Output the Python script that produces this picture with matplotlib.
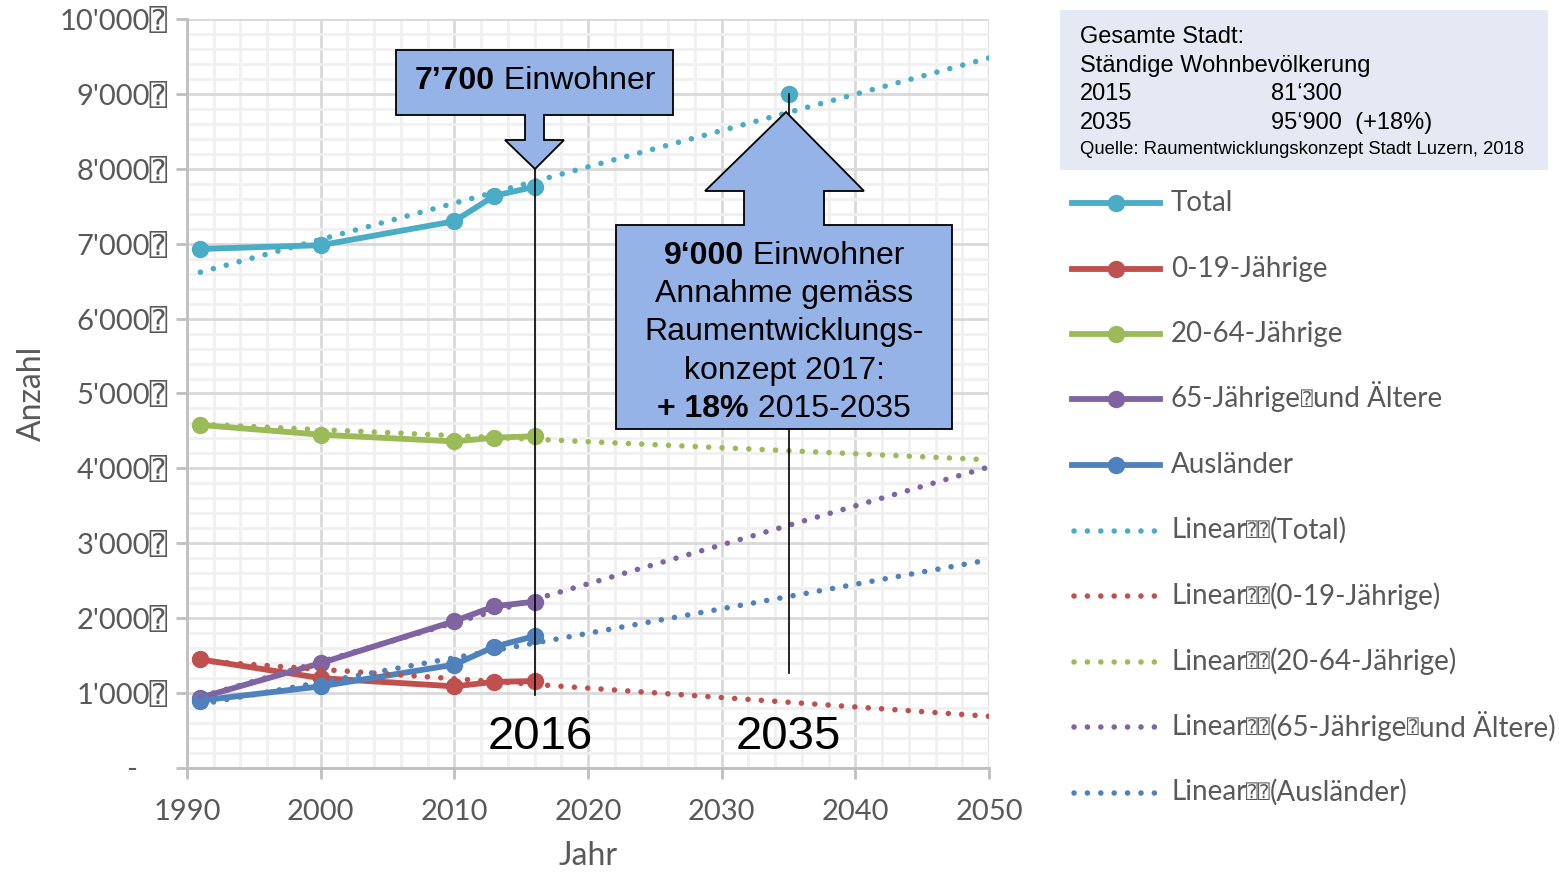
import matplotlib
matplotlib.use("Agg")
import matplotlib.pyplot as plt
from matplotlib.lines import Line2D
from matplotlib.patches import Polygon, Rectangle
from matplotlib.ticker import MultipleLocator, FixedLocator

years = [1991, 2000, 2010, 2013, 2016]
total = [6930, 6980, 7300, 7640, 7760]
age_0_19 = [1450, 1200, 1090, 1150, 1160]
age_20_64 = [4580, 4450, 4360, 4410, 4430]
age_65 = [940, 1400, 1960, 2160, 2220]
auslaender = [900, 1090, 1380, 1620, 1760]

# linear trend lines (start/end as drawn)
trend_years = [1991, 2050]
trend_total = [6620, 9480]
trend_0_19 = [1430, 690]
trend_20_64 = [4590, 4115]
trend_65 = [950, 4020]
trend_ausl = [850, 2780]

target_year = 2035
target_value = 9000
vline_2016 = [980, 7985]
vline_2035 = [1270, 9000]

BOX = '\u2370'
series_names = ['Total', '0-19-Jährige', '20-64-Jährige', '65-Jährige' + BOX + 'und Ältere', 'Ausländer']
colors = ['#4bacc6', '#c0504d', '#9bbb59', '#8064a2', '#4f81bd']
values = [total, age_0_19, age_20_64, age_65, auslaender]
trends = [trend_total, trend_0_19, trend_20_64, trend_65, trend_ausl]

xticks = [1990, 2000, 2010, 2020, 2030, 2040, 2050]
yticks = list(range(0, 10001, 1000))
ytick_labels = ['-    '] + [f"{v:,}".replace(',', "'") + BOX for v in yticks[1:]]

W, H = 1559, 873
FONT = ['Lato', 'DejaVu Sans', 'DejaVu Sans Mono']
ARIAL = ['Liberation Sans', 'DejaVu Sans']
GREY = '#595959'
DOTS = (0, (0.01, 2.4))


def fx(x):
    return x / W


def fy(y):
    return 1 - y / H


fig = plt.figure(figsize=(W / 100, H / 100), dpi=100)
ax = fig.add_axes([fx(187), fy(768), (989 - 187) / W, (768 - 19) / H])
ax.set_xlim(1990, 2050)
ax.set_ylim(0, 10000)

# grid
ax.xaxis.set_major_locator(FixedLocator(xticks))
ax.xaxis.set_minor_locator(MultipleLocator(2))
ax.yaxis.set_major_locator(FixedLocator(yticks))
ax.yaxis.set_minor_locator(MultipleLocator(200))
ax.grid(which='minor', color='#f0f0f0', linewidth=2.0, zorder=0)
ax.grid(which='major', color='#d9d9d9', linewidth=2.0, zorder=0)
ax.set_axisbelow(True)
for s in ['top', 'right']:
    ax.spines[s].set_visible(False)
for s in ['left', 'bottom']:
    ax.spines[s].set_color('#bfbfbf')
    ax.spines[s].set_linewidth(2.0)
ax.tick_params(which='minor', length=0)
ax.tick_params(which='major', length=8, width=2.0, color='#bfbfbf', labelcolor=GREY, labelsize=21)
ax.tick_params(axis='x', pad=14)
ax.tick_params(axis='y', pad=6)
ax.set_yticklabels(ytick_labels, fontfamily=FONT)
ax.set_xticklabels([str(x) for x in xticks], fontfamily=FONT)
ax.set_xlabel('Jahr', fontsize=23, color=GREY, family=FONT, labelpad=12)
ax.set_ylabel('Anzahl', fontsize=23, color=GREY, family=FONT, labelpad=9)

# data series
for vals, c in zip(values, colors):
    ax.plot(years, vals, color=c, lw=4.2, marker='o', ms=11.5, solid_joinstyle='round', zorder=3)
for tr, c in zip(trends, colors):
    ax.plot(trend_years, tr, color=c, lw=4.0, linestyle=DOTS,
            dash_capstyle='round', zorder=4)
ax.plot(target_year, target_value, 'o', color=colors[0], ms=11.5, zorder=5)

# reference lines
ax.plot([2016, 2016], vline_2016, color='black', lw=1.2, zorder=6)
ax.plot([2035, 2035], vline_2035, color='black', lw=1.2, zorder=6)
ax.text(2016.4, 420, '2016', fontsize=34, family=ARIAL, ha='center', va='center', zorder=7)
ax.text(2035, 420, '2035', fontsize=34, family=ARIAL, ha='center', va='center', zorder=7)

# callout shapes (pixel coordinates)
FILL = '#95b3e7'
callout1 = [(396, 50), (673, 50), (673, 115), (544, 115), (544, 140), (564, 140), (535, 169),
            (505, 140), (525, 140), (525, 115), (396, 115)]
callout2 = [(616, 225), (744, 225), (744, 191), (705, 191), (786, 112), (864, 191), (824, 191),
            (824, 225), (952, 225), (952, 429), (616, 429)]
for pts in [callout1, callout2]:
    fig.add_artist(Polygon([(fx(x), fy(y)) for x, y in pts], closed=True, facecolor=FILL,
                           edgecolor='black', lw=1.3, transform=fig.transFigure, zorder=10))

renderer = fig.canvas.get_renderer()


def pieces(x0, yc, parts, align='center', **kw):
    # parts: list of (text, weight, size); laid out side by side
    arts = []
    for txt, wt, size in parts:
        t = fig.text(0, fy(yc), txt, fontsize=size, weight=wt, va='center', ha='left', **kw)
        arts.append(t)
    widths = [a.get_window_extent(renderer).width for a in arts]
    x = x0 - sum(widths) / 2 if align == 'center' else x0
    for a, w in zip(arts, widths):
        a.set_x(fx(x))
        x += w


def callout_text(xc, yc, parts):
    pieces(xc, yc, [(t, w, 23) for t, w in parts], family=ARIAL, zorder=11)


callout_text(535, 81, [('7\u2019700', 'bold'), (' Einwohner', 'normal')])
callout_text(784, 256, [('9\u2018000', 'bold'), (' Einwohner', 'normal')])
callout_text(784, 294, [('Annahme gemäss', 'normal')])
callout_text(784, 332, [('Raumentwicklungs-', 'normal')])
callout_text(784, 371, [('konzept 2017:', 'normal')])
callout_text(784, 409, [('+ 18%', 'bold'), (' 2015-2035', 'normal')])

# info box
fig.add_artist(Rectangle((fx(1060), fy(170)), (1548 - 1060) / W, 160 / H, facecolor='#e4e9f4',
                         edgecolor='none', transform=fig.transFigure, zorder=1))
info = [('Gesamte Stadt:', '', 37), ('Ständige Wohnbevölkerung', '', 66),
        ('2015', '81\u2018300', 94), ('2035', '95\u2018900  (+18%)', 123)]
for left, right, y in info:
    fig.text(fx(1080), fy(y), left, fontsize=17, family=ARIAL, va='center', zorder=2)
    if right:
        fig.text(fx(1271), fy(y), right, fontsize=17, family=ARIAL, va='center', zorder=2)
fig.text(fx(1080), fy(149), 'Quelle: Raumentwicklungskonzept Stadt Luzern, 2018', fontsize=13.3,
         family=ARIAL, va='center', zorder=2)

# legend (drawn by hand, Excel style)
legend_labels = series_names + ['Linear' + BOX + BOX + '(' + n + ')' for n in series_names]
for i, lab in enumerate(legend_labels):
    yp = 203 + i * 65.5
    y = fy(yp)
    c = colors[i % 5]
    if i < 5:
        fig.add_artist(Line2D([fx(1072), fx(1160)], [y, y], color=c, lw=4.2,
                              transform=fig.transFigure))
        fig.add_artist(Line2D([fx(1116)], [y], color=c, marker='o', ms=11.5,
                              transform=fig.transFigure))
    else:
        fig.add_artist(Line2D([fx(1074), fx(1158)], [y, y], color=c, lw=4.0,
                              linestyle=DOTS, dash_capstyle='round',
                              transform=fig.transFigure))
    # the missing-glyph boxes are narrower than the text in the original
    parts = []
    buf = ''
    for ch in lab:
        if ch == BOX:
            if buf:
                parts.append((buf, 'normal', 20))
                buf = ''
            parts.append((ch, 'normal', 14))
        else:
            buf += ch
    if buf:
        parts.append((buf, 'normal', 20))
    pieces(1171, yp, parts, align='left', color=GREY, family=FONT)

fig.savefig('out.png', dpi=100)
